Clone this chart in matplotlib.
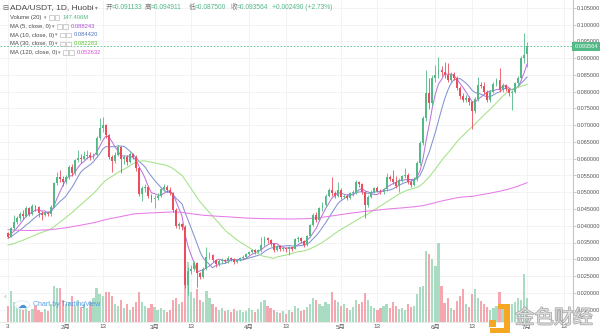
import numpy as np
import pandas as pd
import matplotlib
matplotlib.use("Agg")
import matplotlib.pyplot as plt
from matplotlib.patches import Rectangle, Circle
from matplotlib.transforms import blended_transform_factory
import matplotlib.patheffects as pe

plt.rcParams['font.family'] = ['Liberation Sans', 'Noto Sans CJK SC', 'DejaVu Sans']

# ---------------------------------------------------------------------------
# Data: ADA/USDT daily (Huobi). Closes before the window only feed the MAs.
# ---------------------------------------------------------------------------
pre_closes = [
    0.0470, 0.0475, 0.0490, 0.0480, 0.0470, 0.0465, 0.0460, 0.0445, 0.0390, 0.0395,
    0.0390, 0.0395, 0.0400, 0.0390, 0.0395,
    0.0400, 0.0410, 0.0400, 0.0390, 0.0390, 0.0380, 0.0385, 0.0400, 0.0415, 0.0410,
    0.0395, 0.0400, 0.0395, 0.0405, 0.0400, 0.0390, 0.0395, 0.0385, 0.0385, 0.0390,
    0.0385, 0.0375, 0.0365, 0.0365, 0.0410, 0.0420, 0.0440, 0.0430, 0.0435, 0.0430, 0.0440,
    0.0445, 0.0450, 0.0445, 0.0450, 0.0455, 0.0460, 0.0450, 0.0440, 0.0445, 0.0450,
    0.0430, 0.0425, 0.0420, 0.0415, 0.0410, 0.0410, 0.0405, 0.0395, 0.0390, 0.0390,
    0.0375, 0.0355, 0.0365, 0.0345, 0.0360, 0.0370, 0.0380, 0.0375, 0.0385, 0.0375,
    0.0370, 0.0365, 0.0370, 0.0360, 0.0370, 0.0375, 0.0380, 0.0380, 0.0375, 0.0370,
    0.0365, 0.0360, 0.0360, 0.0350, 0.0345, 0.0325, 0.0310, 0.0340, 0.0330, 0.0330,
    0.0328, 0.0340, 0.0335, 0.0330, 0.0328, 0.0330, 0.0335, 0.0338, 0.0345, 0.0330, 0.0330,
    0.0335, 0.0325, 0.0340, 0.0345, 0.0345, 0.0355, 0.0365, 0.0360, 0.0365, 0.0375,
    0.0370, 0.0378,
]

closes = [
    0.0367, 0.0392, 0.0412, 0.0422, 0.0434, 0.0428, 0.0452, 0.0436, 0.0459, 0.0455,
    0.0438, 0.0432, 0.0437, 0.0434, 0.0457, 0.0527, 0.0547, 0.0540, 0.0531, 0.0545,
    0.0576, 0.0556, 0.0596, 0.0603, 0.0598, 0.0608, 0.0612, 0.0604, 0.0612, 0.0661,
    0.0691, 0.0700, 0.0671, 0.0606, 0.0592, 0.0612, 0.0635, 0.0598, 0.0604, 0.0590,
    0.0614, 0.0606, 0.0571, 0.0494, 0.0512, 0.0515, 0.0490, 0.0480, 0.0484, 0.0490,
    0.0510, 0.0517, 0.0508, 0.0497, 0.0447, 0.0400, 0.0404, 0.0397, 0.0222, 0.0265,
    0.0272, 0.0288, 0.0258, 0.0248, 0.0272, 0.0308, 0.0313, 0.0298, 0.0285, 0.0296,
    0.0299, 0.0294, 0.0305, 0.0302, 0.0291, 0.0298, 0.0303, 0.0307, 0.0316, 0.0323,
    0.0327, 0.0322, 0.0328, 0.0343, 0.0362, 0.0357, 0.0346, 0.0328, 0.0340, 0.0332,
    0.0334, 0.0330, 0.0336, 0.0332, 0.0359, 0.0362, 0.0355, 0.0343, 0.0368, 0.0402,
    0.0432, 0.0418, 0.0452, 0.0462, 0.0490, 0.0507, 0.0497, 0.0490, 0.0508, 0.0487,
    0.0490, 0.0484, 0.0498, 0.0500, 0.0530, 0.0525, 0.0502, 0.0462, 0.0487, 0.0502,
    0.0512, 0.0505, 0.0500, 0.0510, 0.0546, 0.0540, 0.0530, 0.0520, 0.0537, 0.0548,
    0.0551, 0.0532, 0.0522, 0.0540, 0.0586, 0.0646, 0.0721, 0.0795, 0.0765, 0.0840,
    0.0850, 0.0866, 0.0860, 0.0850, 0.0836, 0.0852, 0.0842, 0.0812, 0.0786, 0.0776,
    0.0780, 0.0768, 0.0742, 0.0778, 0.0820, 0.0818, 0.0800, 0.0775, 0.0800, 0.0822,
    0.0835, 0.0805, 0.0820, 0.0808, 0.0795, 0.0800, 0.0825, 0.0840, 0.0900, 0.091074,
    0.093564,
]

highs = [
    0.0381, 0.0396, 0.0432, 0.0430, 0.0440, 0.0446, 0.0458, 0.0455, 0.0464, 0.0462,
    0.0458, 0.0445, 0.0442, 0.0441, 0.0462, 0.0532, 0.0560, 0.0566, 0.0550, 0.0552,
    0.0582, 0.0585, 0.0600, 0.0625, 0.0615, 0.0622, 0.0625, 0.0620, 0.0618, 0.0668,
    0.0721, 0.0726, 0.0705, 0.0675, 0.0612, 0.0620, 0.0642, 0.0638, 0.0612, 0.0610,
    0.0620, 0.0618, 0.0610, 0.0575, 0.0520, 0.0524, 0.0518, 0.0494, 0.0492, 0.0497,
    0.0516, 0.0526, 0.0522, 0.0515, 0.0500, 0.0452, 0.0412, 0.0408, 0.0402, 0.0276,
    0.0282, 0.0294, 0.0292, 0.0262, 0.0276, 0.0337, 0.0322, 0.0316, 0.0302, 0.0300,
    0.0304, 0.0302, 0.0310, 0.0308, 0.0304, 0.0302, 0.0306, 0.0312, 0.0320, 0.0326,
    0.0332, 0.0330, 0.0332, 0.0367, 0.0368, 0.0366, 0.0360, 0.0348, 0.0344, 0.0342,
    0.0338, 0.0336, 0.0340, 0.0338, 0.0362, 0.0368, 0.0366, 0.0358, 0.0371, 0.0406,
    0.0438, 0.0440, 0.0456, 0.0470, 0.0495, 0.0512, 0.0547, 0.0505, 0.0532, 0.0512,
    0.0496, 0.0494, 0.0502, 0.0506, 0.0537, 0.0535, 0.0528, 0.0505, 0.0492, 0.0506,
    0.0516, 0.0518, 0.0510, 0.0514, 0.0556, 0.0552, 0.0565, 0.0550, 0.0542, 0.0552,
    0.0572, 0.0556, 0.0538, 0.0545, 0.0592, 0.0652, 0.0728, 0.0865, 0.0840, 0.0850,
    0.0880, 0.0905, 0.0878, 0.0890, 0.0885, 0.0860, 0.0858, 0.0848, 0.0818, 0.0795,
    0.0790, 0.0786, 0.0772, 0.0784, 0.0845, 0.0830, 0.0830, 0.0805, 0.0806, 0.0828,
    0.0842, 0.0870, 0.0826, 0.0824, 0.0812, 0.0806, 0.0830, 0.0846, 0.0906, 0.0975,
    0.094911,
]

lows = [
    0.0362, 0.0365, 0.0388, 0.0405, 0.0415, 0.0420, 0.0425, 0.0430, 0.0432, 0.0445,
    0.0425, 0.0418, 0.0428, 0.0428, 0.0430, 0.0455, 0.0522, 0.0532, 0.0520, 0.0525,
    0.0540, 0.0550, 0.0552, 0.0590, 0.0588, 0.0595, 0.0600, 0.0596, 0.0598, 0.0605,
    0.0655, 0.0680, 0.0662, 0.0598, 0.0561, 0.0588, 0.0608, 0.0556, 0.0585, 0.0582,
    0.0586, 0.0598, 0.0562, 0.0488, 0.0474, 0.0500, 0.0484, 0.0472, 0.0452, 0.0478,
    0.0486, 0.0505, 0.0502, 0.0492, 0.0440, 0.0394, 0.0390, 0.0386, 0.0215, 0.0192,
    0.0256, 0.0266, 0.0218, 0.0240, 0.0244, 0.0268, 0.0300, 0.0292, 0.0278, 0.0280,
    0.0290, 0.0288, 0.0290, 0.0296, 0.0286, 0.0288, 0.0294, 0.0300, 0.0304, 0.0312,
    0.0318, 0.0316, 0.0318, 0.0322, 0.0340, 0.0350, 0.0340, 0.0322, 0.0326, 0.0326,
    0.0324, 0.0322, 0.0313, 0.0326, 0.0330, 0.0352, 0.0350, 0.0338, 0.0340, 0.0365,
    0.0398, 0.0410, 0.0415, 0.0445, 0.0455, 0.0485, 0.0490, 0.0482, 0.0486, 0.0480,
    0.0482, 0.0478, 0.0480, 0.0490, 0.0496, 0.0515, 0.0496, 0.0422, 0.0455, 0.0482,
    0.0498, 0.0500, 0.0494, 0.0496, 0.0505, 0.0534, 0.0524, 0.0514, 0.0502, 0.0532,
    0.0542, 0.0526, 0.0516, 0.0518, 0.0535, 0.0580, 0.0640, 0.0712, 0.0748, 0.0758,
    0.0830, 0.0842, 0.0848, 0.0842, 0.0828, 0.0830, 0.0836, 0.0805, 0.0778, 0.0768,
    0.0770, 0.0760, 0.0690, 0.0736, 0.0772, 0.0810, 0.0794, 0.0768, 0.0770, 0.0796,
    0.0818, 0.0800, 0.0798, 0.0802, 0.0788, 0.0746, 0.0796, 0.0820, 0.0836, 0.0885,
    0.0875,
]

# volume, millions of ADA
volumes = [
    98, 190, 123, 110, 86, 74, 92, 68, 80, 98,
    74, 61, 80, 68, 110, 221, 209, 209, 135, 110,
    123, 160, 98, 135, 92, 110, 86, 123, 147, 209,
    172, 160, 184, 184, 160, 110, 98, 135, 86, 110,
    74, 92, 123, 184, 123, 98, 86, 110, 92, 74,
    86, 74, 61, 74, 135, 147, 110, 123, 553, 368,
    184, 147, 203, 135, 123, 190, 147, 110, 92, 74,
    86, 68, 74, 61, 80, 68, 74, 61, 68, 86,
    74, 61, 80, 123, 135, 98, 86, 74, 61, 55,
    68, 49, 74, 61, 98, 86, 68, 74, 92, 110,
    147, 135, 110, 98, 123, 110, 184, 135, 123, 98,
    110, 86, 74, 92, 135, 110, 123, 178, 135, 98,
    86, 74, 86, 98, 110, 86, 123, 98, 80, 86,
    74, 110, 92, 98, 172, 215, 221, 436, 417, 387,
    344, 485, 221, 117, 147, 86, 74, 129, 160, 203,
    110, 92, 172, 203, 147, 129, 110, 92, 74, 86,
    98, 184, 98, 104, 98, 110, 123, 147, 135, 295,
    147.406,
]

tick_pos = [0, 19, 31, 48, 60, 79, 91, 109, 121, 140, 152, 170, 182]
tick_labels = ['3', '2月', '13', '3月', '13', '4月', '13', '5月', '13', '6月', '13', '7月', '13']

# last bar as printed in the legend
LAST_OPEN, LAST_HIGH, LAST_LOW, LAST_CLOSE = 0.091133, 0.094911, 0.087500, 0.093564
ma_periods = [5, 10, 30, 120]
ma_legend = [0.088243, 0.084420, 0.082283, 0.052632]

ma_colors = ['#bd74dc', '#8393d2', '#a3e287', '#e77be7']
ma_text_colors = ['#a94fd0', '#4f74c0', '#5cc43a', '#d94fd9']

UP, DOWN = '#53b987', '#eb4d5c'
VOL_UP, VOL_DOWN = '#a9dcc3', '#f5a6ae'

# ---------------------------------------------------------------------------
W, H = 600, 334
PANE_R, PANE_B = 573, 322


def fx(x):
    return x / W


def fy(y):
    return 1 - y / H


closes = np.array(closes)
highs = np.array(highs)
lows = np.array(lows)
volumes = np.array(volumes, dtype=float)
idx = np.arange(len(closes))
opens = np.concatenate([[pre_closes[-1]], closes[:-1]])
opens[-1] = LAST_OPEN
up = closes >= opens

full = pd.Series(np.concatenate([pre_closes, closes]))
mas = [full.rolling(n).mean().values[len(pre_closes):] for n in ma_periods]

fig = plt.figure(figsize=(W / 100, H / 100), dpi=100)
fig.patch.set_facecolor('white')
ax = fig.add_axes([0, fy(PANE_B), fx(PANE_R), PANE_B / H])

# price scale: 16.75 px per 0.005, 0.105 sits 8 px below the top
ax.set_ylim(0.105 - (PANE_B - 8) / 16.75 * 0.005, 0.105 + 8 / 16.75 * 0.005)
ax.set_xlim(-8 / 3.053, (PANE_R - 8) / 3.053)

# volume overlay at the bottom of the pane
VOL_TOP = PANE_B * 6.14
vt = blended_transform_factory(ax.transData, ax.transAxes)
ax.bar(idx, volumes / VOL_TOP, width=0.72, bottom=0,
       color=np.where(up, VOL_UP, VOL_DOWN), linewidth=0, transform=vt, zorder=1)

for ma, c in zip(mas, ma_colors):
    ax.plot(idx, ma, color=c, lw=0.75, zorder=2)

# candles
ccol = np.where(up, UP, DOWN)
ax.vlines(idx, lows, highs, colors=ccol, lw=0.6, zorder=3)
body_lo = np.minimum(opens, closes)
body_h = np.maximum(np.abs(closes - opens), 0.00008)
ax.bar(idx, body_h, bottom=body_lo, width=0.62, color=ccol, linewidth=0, zorder=4)

ax.axhline(LAST_CLOSE, color=UP, lw=0.6, ls=(0, (2, 2)), zorder=5)

# axes styling
ax.yaxis.tick_right()
ax.set_yticks(np.arange(0.015, 0.10501, 0.005))
ax.yaxis.set_major_formatter(plt.FormatStrFormatter('%.6f'))
ax.tick_params(axis='y', labelsize=4.0, colors='#555555', length=1.8, width=0.5, pad=1.0)
ax.tick_params(axis='y', color='#b8b8b8')
ax.set_xticks(tick_pos)
ax.set_xticklabels(tick_labels)
ax.tick_params(axis='x', labelsize=4.5, colors='#555555', length=0, pad=1.8)
ax.grid(True, color='#f1f1f1', lw=0.6)
ax.set_axisbelow(True)
for s in ['top', 'left']:
    ax.spines[s].set_visible(False)
ax.spines['right'].set_color('#c4c4c4')
ax.spines['right'].set_linewidth(0.8)
ax.spines['bottom'].set_color('#e6e6e6')
ax.spines['bottom'].set_linewidth(0.6)

ax.annotate(f'{LAST_CLOSE:.6f}', xy=(1.0, LAST_CLOSE), xycoords=('axes fraction', 'data'),
            xytext=(1.0, 0), textcoords='offset points', ha='left', va='center',
            fontsize=4.1, color='white', annotation_clip=False, zorder=10,
            bbox=dict(boxstyle='square,pad=0.4', fc=UP, ec='none'))

# ---------------------------------------------------------------------------
# legend block at the top left
# ---------------------------------------------------------------------------
GRAY = '#4a4a4a'
fig.text(fx(2), fy(7.5), '⊟', fontsize=5.2, color='#666666', va='center', family='DejaVu Sans')
fig.text(fx(10), fy(7.5), 'ADA/USDT, 1D, Huobi', fontsize=6, color=GRAY, va='center')
fig.text(fx(95), fy(7.5), '▾', fontsize=4, color='#888888', va='center', family='DejaVu Sans')
ohlc = [('开', 106, LAST_OPEN), ('高', 145, LAST_HIGH), ('低', 189, LAST_LOW), ('收', 231, LAST_CLOSE)]
for lab, x, v in ohlc:
    fig.text(fx(x), fy(7.5), lab, fontsize=4.8, color='#777777', va='center')
    fig.text(fx(x + 5.5), fy(7.5), f'={v:.6f}', fontsize=4.8, color=UP, va='center')
chg = LAST_CLOSE - closes[-2]
fig.text(fx(272), fy(7.5), f'+{chg:.6f} (+{chg / closes[-2] * 100:.2f}%)', fontsize=4.8,
         color=UP, va='center')

rows = [
    ('Volume (20)', 17.5, 49, f'{volumes[-1]:.3f}M', UP),
    ('MA (5, close, 0)', 26.2, 57, f'{ma_legend[0]:.6f}', ma_text_colors[0]),
    ('MA (10, close, 0)', 35.0, 60, f'{ma_legend[1]:.6f}', ma_text_colors[1]),
    ('MA (30, close, 0)', 43.7, 60, f'{ma_legend[2]:.6f}', ma_text_colors[2]),
    ('MA (120, close, 0)', 52.5, 63, f'{ma_legend[3]:.6f}', ma_text_colors[3]),
]
for lab, y, xi, val, c in rows:
    fig.text(fx(10), fy(y), lab, fontsize=4.2, color=GRAY, va='center')
    fig.text(fx(xi - 5), fy(y), '▾', fontsize=3.5, color='#888888', va='center',
             family='DejaVu Sans')
    for k in range(2):
        fig.patches.append(Rectangle((fx(xi + k * 6), fy(y + 2.3)), fx(4.5), 4.5 / H,
                                     transform=fig.transFigure, fill=False,
                                     ec='#bdbdbd', lw=0.5))
    fig.text(fx(xi + 14), fy(y), val, fontsize=4.2, color=c, va='center')

# ---------------------------------------------------------------------------
# watermarks
# ---------------------------------------------------------------------------
fig.text(fx(4), fy(298), '‹', fontsize=6, color='#aaaaaa', va='center')
fig.patches.append(Circle((fx(22), fy(305)), 7.5 / W, transform=fig.transFigure,
                          fc='white', ec='#d6e6f5', lw=0.6, alpha=0.9))
fig.text(fx(22), fy(305.5), '☁', fontsize=6.5, color='#4a90d9', ha='center', va='center',
         family='DejaVu Sans')
fig.text(fx(33), fy(305), 'Chart by TradingView', fontsize=5, color='#3b8fe0', va='center',
         alpha=0.85)

orange = '#f5a623'
fig.patches.append(Rectangle((fx(489), fy(327)), fx(7), 7 / H, transform=fig.transFigure,
                             fc=orange, ec='none'))
fig.patches.append(Rectangle((fx(498), fy(309)), fx(12), 5 / H, transform=fig.transFigure,
                             fc=orange, ec='none'))
fig.patches.append(Rectangle((fx(504), fy(332)), fx(6), 23 / H, transform=fig.transFigure,
                             fc=orange, ec='none'))
fig.patches.append(Rectangle((fx(490), fy(333)), fx(20), 5 / H, transform=fig.transFigure,
                             fc=orange, ec='none'))
fig.text(fx(554), fy(318), '金色财经', fontsize=14, color='#dcdcdc', ha='center', va='center',
         family=['Noto Sans CJK SC'],
         path_effects=[pe.withStroke(linewidth=1.0, foreground='#a6a6a6')])

fig.savefig('out.png', dpi=100, facecolor='white')
